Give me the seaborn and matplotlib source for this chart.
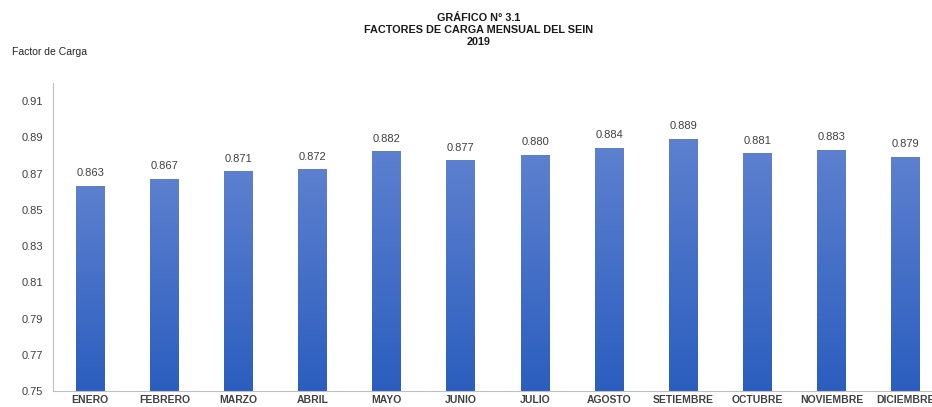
import numpy as np
import pandas as pd
import seaborn as sns
import matplotlib.pyplot as plt
from matplotlib.colors import LinearSegmentedColormap

meses = ['ENERO', 'FEBRERO', 'MARZO', 'ABRIL', 'MAYO', 'JUNIO', 'JULIO',
         'AGOSTO', 'SETIEMBRE', 'OCTUBRE', 'NOVIEMBRE', 'DICIEMBRE']
factor = [0.863, 0.867, 0.871, 0.872, 0.882, 0.877, 0.880,
          0.884, 0.889, 0.881, 0.883, 0.879]
yticks = [0.75, 0.77, 0.79, 0.81, 0.83, 0.85, 0.87, 0.89, 0.91]

df = pd.DataFrame({'mes': meses, 'factor': factor})

sns.set_style('white')
plt.rcParams['font.family'] = ['Liberation Sans', 'DejaVu Sans']

fig = plt.figure(figsize=(9.32, 4.07), dpi=100)
# axes runs past the right edge like the cropped original
ax = fig.add_axes([53 / 932, 16 / 407, 890 / 932, 308 / 407])

sns.barplot(data=df, x='mes', y='factor', color='#4070c8', width=0.39,
            ax=ax, saturation=1)
ymin, ymax = 0.75, 0.92

# vertical gradient inside each bar (only the visible part)
cmap = LinearSegmentedColormap.from_list('azul', ['#2b5ebf', '#5d80cf'])
grad = np.linspace(0, 1, 256).reshape(-1, 1)
for p in ax.patches:
    x0, w = p.get_x(), p.get_width()
    top = p.get_y() + p.get_height()
    ax.imshow(grad, cmap=cmap, origin='lower', aspect='auto',
              extent=[x0, x0 + w, ymin, top], zorder=2)
    p.set_visible(False)
ax.set_xlim(-0.5, 11.5)
ax.set_ylim(ymin, ymax)

for i, v in enumerate(factor):
    ax.text(i, v + 0.0045, f'{v:.3f}', ha='center', va='bottom',
            fontsize=8, color='#404040')

ax.set_yticks(yticks)
ax.set_yticklabels([f'{t:.2f}' for t in yticks], fontsize=8, color='#404040')
ax.set_xticks(range(12))
ax.set_xticklabels(meses, fontsize=7.5, color='#404040', fontweight='bold')
ax.set_xticks(np.arange(-0.5, 12, 1), minor=True)
ax.tick_params(axis='x', which='major', length=0, pad=3)
ax.tick_params(axis='x', which='minor', length=4, color='#bfbfbf', width=0.8)
ax.tick_params(axis='y', length=3, color='#bfbfbf', width=0.8, pad=4)
ax.set_xlabel('')
ax.set_ylabel('')

for s in ['top', 'right']:
    ax.spines[s].set_visible(False)
for s in ['left', 'bottom']:
    ax.spines[s].set_color('#bfbfbf')
    ax.spines[s].set_linewidth(0.8)

fig.text(479 / 932, 1 - 30 / 407,
         'GRÁFICO N° 3.1\nFACTORES DE CARGA MENSUAL DEL SEIN\n2019',
         ha='center', va='center', fontsize=7.8, fontweight='bold',
         color='#1a1a1a', linespacing=1.25)
fig.text(12 / 932, 1 - 52 / 407, 'Factor de Carga', ha='left', va='center',
         fontsize=7.5, color='#262626')

fig.savefig('out.png', dpi=100)
